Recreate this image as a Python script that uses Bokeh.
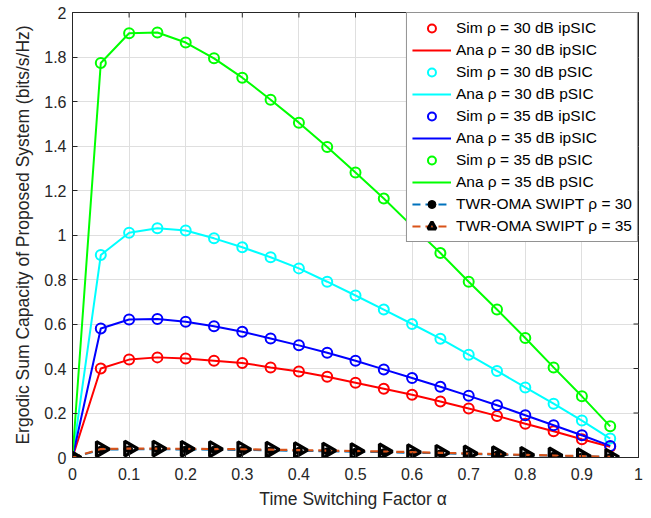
from bokeh.plotting import figure
from bokeh.models import Range1d, FixedTicker, Legend, LegendItem
from bokeh.embed import file_html
from bokeh.resources import INLINE
import math

# ---- data ----
alpha = [0.0, 0.05, 0.1, 0.15, 0.2, 0.25, 0.3, 0.35, 0.4, 0.45,
         0.5, 0.55, 0.6, 0.65, 0.7, 0.75, 0.8, 0.85, 0.9, 0.95]

sim30_ipsic = [0, 0.400, 0.440, 0.450, 0.445, 0.435, 0.425, 0.405, 0.387, 0.363,
               0.336, 0.309, 0.282, 0.252, 0.220, 0.187, 0.152, 0.118, 0.082, 0.048]
ana30_ipsic = sim30_ipsic
sim30_psic = [0, 0.910, 1.010, 1.030, 1.020, 0.985, 0.945, 0.900, 0.850, 0.790,
              0.728, 0.665, 0.600, 0.534, 0.462, 0.389, 0.315, 0.242, 0.166, 0.085]
ana30_psic = sim30_psic
sim35_ipsic = [0, 0.580, 0.620, 0.622, 0.610, 0.590, 0.565, 0.535, 0.504, 0.471,
               0.435, 0.396, 0.357, 0.318, 0.277, 0.235, 0.190, 0.145, 0.100, 0.052]
ana35_ipsic = sim35_ipsic
sim35_psic = [0, 1.773, 1.907, 1.910, 1.865, 1.794, 1.707, 1.608, 1.505, 1.396,
              1.281, 1.164, 1.040, 0.919, 0.790, 0.665, 0.537, 0.405, 0.275, 0.140]
ana35_psic = sim35_psic
twr_oma30 = [0, 0.035, 0.037, 0.037, 0.036, 0.035, 0.034, 0.032, 0.030, 0.028,
             0.026, 0.024, 0.021, 0.019, 0.016, 0.013, 0.010, 0.008, 0.005, 0.002]
twr_oma35 = [0, 0.038, 0.040, 0.040, 0.039, 0.038, 0.037, 0.035, 0.033, 0.031,
             0.029, 0.027, 0.024, 0.021, 0.018, 0.015, 0.012, 0.009, 0.006, 0.003]

x_ticks = [0, 0.1, 0.2, 0.3, 0.4, 0.5, 0.6, 0.7, 0.8, 0.9, 1]
x_tick_labels = ["0", "0.1", "0.2", "0.3", "0.4", "0.5", "0.6", "0.7", "0.8", "0.9", "1"]
y_ticks = [0, 0.2, 0.4, 0.6, 0.8, 1, 1.2, 1.4, 1.6, 1.8, 2]
y_tick_labels = ["0", "0.2", "0.4", "0.6", "0.8", "1", "1.2", "1.4", "1.6", "1.8", "2"]
x_min, x_max = 0, 1
y_min, y_max = 0, 2

FONT = "Liberation Sans"
AX = "#262626"

p = figure(width=644, height=513, output_backend="svg", toolbar_location=None,
           x_range=Range1d(x_min, x_max), y_range=Range1d(y_min, y_max),
           min_border_left=72, min_border_right=6, min_border_top=12, min_border_bottom=56)
p.background_fill_color = "white"
p.border_fill_color = "white"
p.outline_line_color = AX
p.outline_line_width = 1

for ax, ticks, labels in ((p.xaxis[0], x_ticks, x_tick_labels), (p.yaxis[0], y_ticks, y_tick_labels)):
    ax.ticker = FixedTicker(ticks=ticks)
    ax.major_label_overrides = {t: l for t, l in zip(ticks, labels)}
    ax.major_tick_in = 5
    ax.major_tick_out = 0
    ax.minor_tick_in = 0
    ax.minor_tick_out = 0
    ax.axis_line_color = AX
    ax.major_tick_line_color = AX
    ax.major_label_text_font = FONT
    ax.major_label_text_font_size = "16px"
    ax.major_label_text_color = AX
    ax.axis_label_text_font = FONT
    ax.axis_label_text_font_size = "17.5px"
    ax.axis_label_text_font_style = "normal"
    ax.axis_label_text_color = AX

p.xaxis.axis_label = "Time Switching Factor  α"
p.yaxis.axis_label = "Ergodic Sum Capacity of Proposed System (bits/s/Hz)"
p.xaxis.major_label_standoff = 10
p.yaxis.major_label_standoff = 6
p.xaxis.axis_label_standoff = 6
p.yaxis.axis_label_standoff = 8

p.xgrid.ticker = FixedTicker(ticks=x_ticks)
p.ygrid.ticker = FixedTicker(ticks=y_ticks)
p.grid.grid_line_color = "#dfdfdf"
p.grid.grid_line_width = 1

# inward tick marks on the right and top edges of the box
p.scatter([x_max] * len(y_ticks), y_ticks, marker="dash", size=10, line_color=AX, line_width=1)
p.scatter(x_ticks, [y_max] * len(x_ticks), marker="dash", size=10, angle=math.pi / 2,
          line_color=AX, line_width=1)

series = [
    ("30 dB ipSIC", sim30_ipsic, ana30_ipsic, "#FF0000"),
    ("30 dB pSIC", sim30_psic, ana30_psic, "#00FFFF"),
    ("35 dB ipSIC", sim35_ipsic, ana35_ipsic, "#0000FF"),
    ("35 dB pSIC", sim35_psic, ana35_psic, "#00FF00"),
]
items = []
for name, sim, ana, col in series:
    rs = p.scatter(alpha, sim, marker="circle", size=10, fill_color=None,
                   line_color=col, line_width=2)
    rl = p.line(alpha, ana, line_color=col, line_width=2)
    items.append(LegendItem(label="Sim ρ = " + name, renderers=[rs]))
    items.append(LegendItem(label="Ana ρ = " + name, renderers=[rl]))

l30 = p.line(alpha, twr_oma30, line_color="#0072BD", line_width=2, line_dash="8 5")
m30 = p.scatter(alpha, twr_oma30, marker="circle", size=7, fill_color="black", line_color="black")
items.append(LegendItem(label="TWR-OMA SWIPT ρ = 30", renderers=[l30, m30]))
l35 = p.line(alpha, twr_oma35, line_color="#D95319", line_width=2.2, line_dash="8 5")
m35 = p.scatter(alpha, twr_oma35, marker="triangle", size=15, angle=-math.pi / 2,
                fill_color=None, line_color="black", line_width=3.2)
items.append(LegendItem(label="TWR-OMA SWIPT ρ = 35", renderers=[l35, m35]))

leg = Legend(items=items, location="top_right")
leg.label_text_font = FONT
leg.label_text_font_size = "15.5px"
leg.label_text_color = "black"
leg.label_height = 20
leg.glyph_height = 20
leg.glyph_width = 39
leg.spacing = 2
leg.padding = 5
leg.margin = 0
leg.label_standoff = 5
leg.border_line_color = AX
leg.border_line_width = 1
leg.background_fill_color = "white"
leg.background_fill_alpha = 1
p.add_layout(leg)

open("out.html", "w").write(file_html(p, INLINE))
